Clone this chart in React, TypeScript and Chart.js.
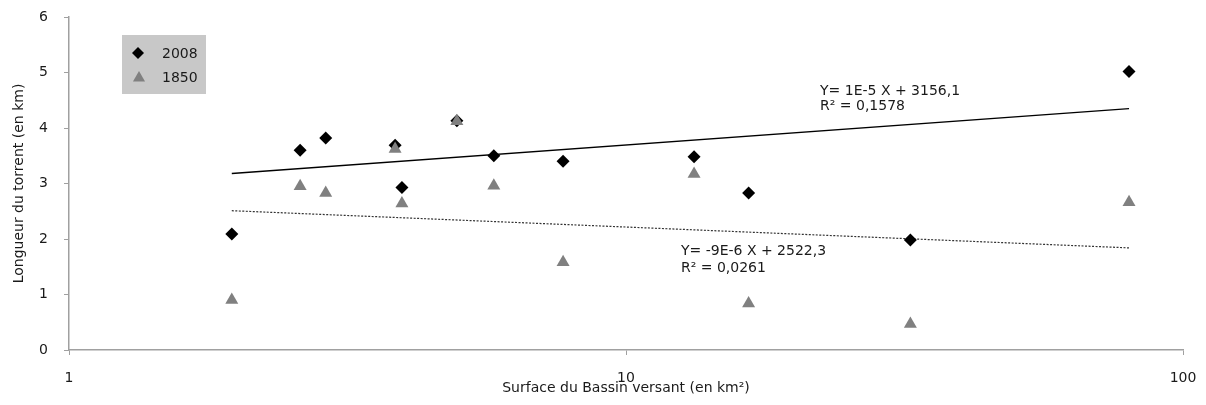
import React, { useEffect, useRef } from "react";
import { Chart, registerables } from "chart.js";

Chart.register(...registerables);

// Surface du bassin versant (km²)
const surfaces = [1.96, 2.6, 2.89, 3.85, 3.96, 4.97, 5.79, 7.71, 13.25, 16.6, 32.4, 80.0];
// Longueur du torrent (km)
const len2008 = [2.09, 3.6, 3.82, 3.69, 2.93, 4.13, 3.5, 3.4, 3.48, 2.83, 1.98, 5.02];
const len1850 = [0.9, 2.95, 2.83, 3.62, 2.64, 4.12, 2.96, 1.58, 3.17, 0.84, 0.47, 2.66];

// Trendline endpoints (as drawn)
const trendX = [1.96, 80.0];
const trend2008 = [3.18, 4.35];
const trend1850 = [2.51, 1.84];

const yTicks = [0, 1, 2, 3, 4, 5, 6];
const xTicks = [1, 10, 100];

const eq2008 = ["Y= 1E-5 X + 3156,1", "R² = 0,1578"];
const eq1850 = ["Y= -9E-6 X + 2522,3", "R² = 0,0261"];
const eq2008Pos = { x: 22.3, y: [4.66, 4.39] };
const eq1850Pos = { x: 12.55, y: [1.77, 1.47] };

const FONT = "'DejaVu Sans', 'Liberation Sans', Arial, sans-serif";

export default function App() {
  const ref = useRef<HTMLCanvasElement | null>(null);

  useEffect(() => {
    document.body.style.margin = "0";
    const canvas = ref.current;
    if (!canvas) return;

    const overlay = {
      id: "overlay",
      afterDraw(chart: any) {
        const ctx = chart.ctx;
        const xs = chart.scales.x;
        const ys = chart.scales.y;
        ctx.save();
        ctx.font = `14px ${FONT}`;
        ctx.fillStyle = "#1a1a1a";
        ctx.textBaseline = "middle";
        ctx.textAlign = "left";
        const px1 = xs.getPixelForValue(eq2008Pos.x);
        eq2008.forEach((t, i) => ctx.fillText(t, px1, ys.getPixelForValue(eq2008Pos.y[i])));
        const px2 = xs.getPixelForValue(eq1850Pos.x);
        eq1850.forEach((t, i) => ctx.fillText(t, px2, ys.getPixelForValue(eq1850Pos.y[i])));

        // legend box
        const bx = 122, by = 35, bw = 84, bh = 59;
        ctx.fillStyle = "#c8c8c8";
        ctx.fillRect(bx, by, bw, bh);
        // diamond
        const dx = 138, dy = 53, r = 6;
        ctx.fillStyle = "#000";
        ctx.beginPath();
        ctx.moveTo(dx, dy - r);
        ctx.lineTo(dx + r, dy);
        ctx.lineTo(dx, dy + r);
        ctx.lineTo(dx - r, dy);
        ctx.closePath();
        ctx.fill();
        // triangle
        const tx = 139, ty = 78, tr = 7;
        ctx.fillStyle = "#808080";
        ctx.beginPath();
        ctx.moveTo(tx, ty - tr);
        ctx.lineTo(tx + tr * 0.866, ty + tr * 0.5);
        ctx.lineTo(tx - tr * 0.866, ty + tr * 0.5);
        ctx.closePath();
        ctx.fill();
        ctx.fillStyle = "#1a1a1a";
        ctx.font = `14px ${FONT}`;
        ctx.fillText("2008", 162, 54);
        ctx.fillText("1850", 162, 78);
        ctx.restore();
      },
    };

    const chart = new Chart(canvas, {
      type: "scatter",
      data: {
        datasets: [
          {
            label: "1850",
            data: surfaces.map((x, i) => ({ x, y: len1850[i] })),
            pointStyle: "triangle",
            pointRadius: 7.5,
            backgroundColor: "#808080",
            borderColor: "#808080",
            borderWidth: 0,
            order: 1,
          },
          {
            label: "2008",
            data: surfaces.map((x, i) => ({ x, y: len2008[i] })),
            pointStyle: "rectRot",
            pointRadius: 6.5,
            backgroundColor: "#000",
            borderColor: "#000",
            borderWidth: 0,
            order: 2,
          },
          {
            label: "trend2008",
            data: trendX.map((x, i) => ({ x, y: trend2008[i] })),
            showLine: true,
            pointRadius: 0,
            borderColor: "#000",
            borderWidth: 1.3,
            order: 3,
          },
          {
            label: "trend1850",
            data: trendX.map((x, i) => ({ x, y: trend1850[i] })),
            showLine: true,
            pointRadius: 0,
            borderColor: "#333",
            borderWidth: 1.2,
            borderDash: [2, 1.5],
            order: 4,
          },
        ],
      },
      options: {
        animation: false,
        responsive: false,
        devicePixelRatio: 1,
        layout: { padding: { left: 0, right: 23, top: 17, bottom: 0 } },
        plugins: {
          legend: { display: false },
          tooltip: { enabled: false },
        },
        scales: {
          x: {
            type: "logarithmic",
            min: 1,
            max: 100,
            afterBuildTicks: (s: any) => {
              s.ticks = xTicks.map((v) => ({ value: v }));
            },
            afterFit: (s: any) => {
              s.height = 55;
              s.paddingLeft = 0;
              s.paddingRight = 0;
            },
            ticks: {
              callback: (v: any) => String(v),
              color: "#1a1a1a",
              font: { family: FONT, size: 14 },
              padding: 15,
              maxRotation: 0,
            },
            grid: { drawOnChartArea: false, drawTicks: true, tickLength: 5, color: "#a0a0a0" },
            border: { color: "#a0a0a0", width: 1.5 },
            title: {
              display: true,
              text: "Surface du Bassin versant (en km²)",
              color: "#1a1a1a",
              font: { family: FONT, size: 14 },
              padding: { top: 0, bottom: 8 },
            },
          },
          y: {
            min: 0,
            max: 6,
            afterBuildTicks: (s: any) => {
              s.ticks = yTicks.map((v) => ({ value: v }));
            },
            afterFit: (s: any) => {
              s.width = 69;
              s.paddingTop = 0;
              s.paddingBottom = 0;
            },
            ticks: {
              color: "#1a1a1a",
              font: { family: FONT, size: 14 },
              padding: 16,
            },
            grid: { drawOnChartArea: false, drawTicks: true, tickLength: 5, color: "#a0a0a0" },
            border: { color: "#a0a0a0", width: 1.5 },
            title: {
              display: true,
              text: "Longueur du torrent (en km)",
              color: "#1a1a1a",
              font: { family: FONT, size: 14 },
              padding: { top: 11, bottom: 0 },
            },
          },
        },
      },
      plugins: [overlay],
    });

    return () => chart.destroy();
  }, []);

  return (
    <div style={{ width: 1206, height: 405, background: "#fff" }}>
      <canvas ref={ref} width={1206} height={405} />
    </div>
  );
}
